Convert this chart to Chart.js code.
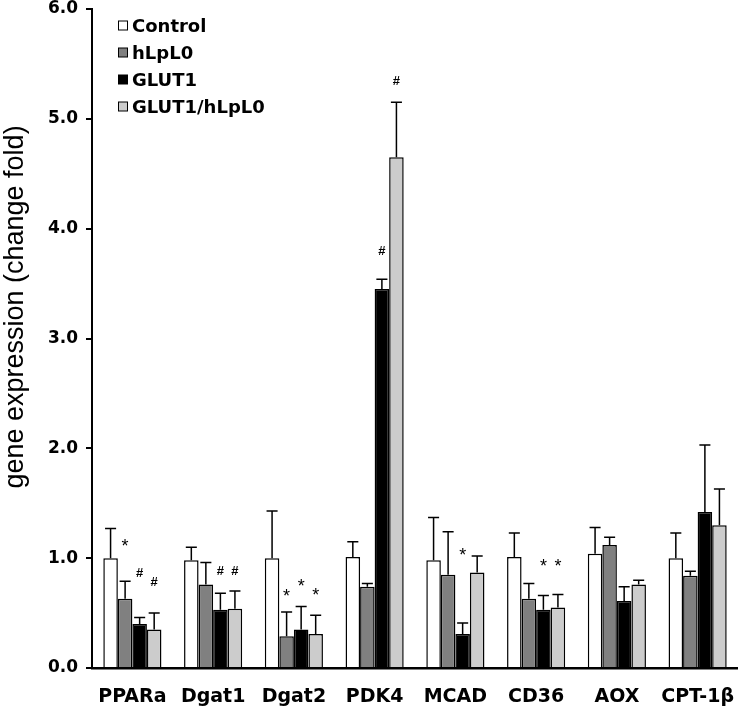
<!DOCTYPE html>
<html lang="en">
<head>
    <meta charset="UTF-8">
    <title>Gene expression</title>
    <script src="https://cdn.jsdelivr.net/npm/chart.js"></script>
    <style>
        body {
            margin: 0;
            padding: 0;
            background: #fff;
        }
        #geneChart {
            display: block;
        }
    </style>
</head>
<body>
    <canvas id="geneChart" width="738" height="709"></canvas>

    <script>
        // categories and tick labels
        const genes = ['PPARa', 'Dgat1', 'Dgat2', 'PDK4', 'MCAD', 'CD36', 'AOX', 'CPT-1β'];
        const yTicks = [0, 1, 2, 3, 4, 5, 6];
        const yTitle = 'gene expression (change fold)';

        // group means
        const controlVals = [1.00, 0.98, 1.00, 1.01, 0.98, 1.01, 1.04, 1.00];
        const hlplVals = [0.63, 0.76, 0.29, 0.74, 0.85, 0.63, 1.12, 0.84];
        const glutVals = [0.40, 0.53, 0.35, 3.45, 0.31, 0.53, 0.61, 1.42];
        const glutHlplVals = [0.35, 0.54, 0.31, 4.65, 0.87, 0.55, 0.76, 1.30];

        // top of the error bars (mean + SD)
        const controlErr = [1.27, 1.10, 1.43, 1.15, 1.37, 1.23, 1.28, 1.23];
        const hlplErr = [0.79, 0.96, 0.51, 0.77, 1.24, 0.77, 1.19, 0.88];
        const glutErr = [0.46, 0.68, 0.56, 3.54, 0.41, 0.66, 0.74, 2.03];
        const glutHlplErr = [0.50, 0.70, 0.48, 5.15, 1.02, 0.67, 0.80, 1.63];

        // significance marks and the level they sit at
        const hlplMarks = ['*', '', '*', '', '', '', '', ''];
        const hlplMarkAt = [1.13, 0, 0.67, 0, 0, 0, 0, 0];
        const glutMarks = ['#', '#', '*', '#', '*', '*', '', ''];
        const glutMarkAt = [0.86, 0.88, 0.76, 3.79, 1.05, 0.95, 0, 0];
        const glutHlplMarks = ['#', '#', '*', '#', '', '*', '', ''];
        const glutHlplMarkAt = [0.78, 0.88, 0.68, 5.34, 0, 0.95, 0, 0];

        const errTops = [controlErr, hlplErr, glutErr, glutHlplErr];
        const marks = [null, hlplMarks, glutMarks, glutHlplMarks];
        const markAt = [null, hlplMarkAt, glutMarkAt, glutHlplMarkAt];

        const wideFont = '"DejaVu Sans", Verdana, sans-serif';
        const plainFont = 'Arial, "Liberation Sans", sans-serif';
        Chart.defaults.font.family = wideFont;
        Chart.defaults.color = '#000';

        // error bars + * / # marks
        const errorBarPlugin = {
            id: 'errorBars',
            afterDatasetsDraw(chart) {
                const ctx = chart.ctx;
                const yScale = chart.scales.y;
                ctx.save();
                ctx.strokeStyle = '#000';
                ctx.lineWidth = 1.5;
                chart.data.datasets.forEach((ds, i) => {
                    const meta = chart.getDatasetMeta(i);
                    meta.data.forEach((bar, j) => {
                        const yErr = yScale.getPixelForValue(errTops[i][j]);
                        const half = bar.width * 0.38;
                        ctx.beginPath();
                        ctx.moveTo(bar.x, bar.y);
                        ctx.lineTo(bar.x, yErr);
                        ctx.moveTo(bar.x - half, yErr);
                        ctx.lineTo(bar.x + half, yErr);
                        ctx.stroke();

                        if (marks[i] && marks[i][j]) {
                            const sym = marks[i][j];
                            ctx.fillStyle = '#000';
                            ctx.textAlign = 'center';
                            ctx.textBaseline = 'middle';
                            ctx.font = sym === '#' ? 'bold 13px ' + plainFont : '18px ' + plainFont;
                            const yy = yScale.getPixelForValue(markAt[i][j]) + (sym === '*' ? 3 : 0);
                            ctx.fillText(sym, bar.x, yy);
                        }
                    });
                });
                ctx.restore();
            }
        };

        // legend inside the plot (top left) and the rotated y title
        const legendPlugin = {
            id: 'insideLegend',
            afterDraw(chart) {
                const ctx = chart.ctx;
                ctx.save();
                ctx.font = 'bold 18px ' + wideFont;
                ctx.textBaseline = 'middle';
                ctx.textAlign = 'left';
                chart.data.datasets.forEach((ds, i) => {
                    const cy = 27 + i * 27;
                    ctx.fillStyle = ds.backgroundColor;
                    ctx.fillRect(118.5, cy - 6, 9, 9);
                    ctx.strokeStyle = '#000';
                    ctx.lineWidth = 1;
                    ctx.strokeRect(118.5, cy - 6, 9, 9);
                    ctx.fillStyle = '#000';
                    ctx.fillText(ds.label, 132, cy);
                });

                ctx.translate(16, 307);
                ctx.rotate(-Math.PI / 2);
                ctx.textAlign = 'center';
                ctx.font = '27px ' + plainFont;
                ctx.fillText(yTitle, 0, 0);
                ctx.restore();
            }
        };

        function makeSet(label, values, color) {
            return {
                label: label,
                data: values,
                backgroundColor: color,
                borderColor: '#000',
                borderWidth: 1.5,
                borderSkipped: 'bottom',
                categoryPercentage: 0.72,
                barPercentage: 1.0
            };
        }

        const ctx = document.getElementById('geneChart').getContext('2d');
        new Chart(ctx, {
            type: 'bar',
            data: {
                labels: genes,
                datasets: [
                    makeSet('Control', controlVals, '#ffffff'),
                    makeSet('hLpL0', hlplVals, '#808080'),
                    makeSet('GLUT1', glutVals, '#000000'),
                    makeSet('GLUT1/hLpL0', glutHlplVals, '#cccccc')
                ]
            },
            options: {
                responsive: false,
                animation: false,
                layout: {
                    padding: { top: 9, right: 0, left: 0, bottom: 0 }
                },
                plugins: {
                    legend: { display: false },
                    tooltip: { enabled: false }
                },
                scales: {
                    x: {
                        grid: { drawOnChartArea: false, drawTicks: false },
                        border: { color: '#000', width: 2.5 },
                        ticks: {
                            font: { size: 19, weight: 'bold' },
                            padding: 18,
                            color: '#000',
                            maxRotation: 0
                        },
                        afterFit(scale) {
                            scale.height = 41;
                            // let the last label run to the canvas edge
                            scale.paddingLeft = 0;
                            scale.paddingRight = 0;
                        }
                    },
                    y: {
                        min: 0,
                        max: 6,
                        afterBuildTicks(scale) {
                            scale.ticks = yTicks.map(v => ({ value: v }));
                        },
                        grid: { drawOnChartArea: false, drawTicks: true, tickLength: 6, color: '#000', lineWidth: 2 },
                        border: { color: '#000', width: 2 },
                        ticks: {
                            font: { size: 17, weight: 'bold' },
                            padding: 8,
                            color: '#000',
                            callback: v => Number(v).toFixed(1)
                        },
                        afterFit(scale) {
                            scale.width = 92;
                            scale.paddingTop = 0;
                            scale.paddingBottom = 0;
                        }
                    }
                }
            },
            plugins: [errorBarPlugin, legendPlugin]
        });
    </script>
</body>
</html>
